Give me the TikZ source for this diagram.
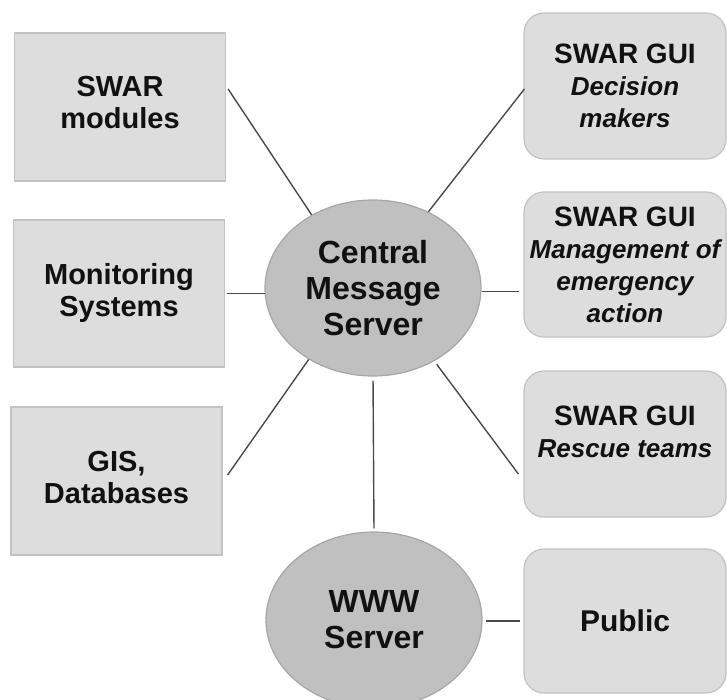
\documentclass[tikz,border=0pt]{standalone}
\usepackage{fontspec}
\setmainfont{Liberation Sans}
\usetikzlibrary{shapes.geometric,calc}

\definecolor{boxfill}{HTML}{DDDDDD}
\definecolor{boxline}{HTML}{C2C2C2}
\definecolor{ovalfill}{HTML}{C0C0C0}
\definecolor{ovalline}{HTML}{A6A6A6}
\definecolor{wire}{HTML}{4A4A4A}
\definecolor{ink}{HTML}{111111}

\tikzset{
  plainbox/.style={draw=boxline, fill=boxfill, line width=1.2pt, inner sep=0pt,
    minimum width=211pt, text=ink, align=center,
    font=\fontsize{29}{32}\selectfont\bfseries},
  guibox/.style={draw=boxline, fill=boxfill, line width=1.2pt, inner sep=0pt,
    rounded corners=20pt, minimum width=202pt, text=ink, align=center,
    font=\fontsize{28}{32}\selectfont\bfseries},
  server/.style={ellipse, draw=ovalline, fill=ovalfill, line width=1.2pt, inner sep=0pt,
    minimum width=216pt, minimum height=176pt, text=ink, align=center,
    font=\fontsize{32}{36}\selectfont\bfseries},
  labeltext/.style={text=ink, align=center, inner sep=0pt,
    font=\fontsize{28}{32}\selectfont\bfseries},
  wireline/.style={draw=wire, line width=1.4pt},
}
\newcommand{\role}[1]{{\fontsize{26}{32}\selectfont\itshape #1}}

\begin{document}
\begin{tikzpicture}[x=1pt, y=-1pt]
\useasboundingbox (0,0) rectangle (727,700);

% data sources on the left
\node[plainbox, minimum height=148pt] (mods) at (120,107) {};
\node[labeltext, font=\fontsize{29}{32}\selectfont\bfseries] (modstext) at (120,103) {SWAR\\modules};
\node[plainbox, minimum height=147pt] (mon) at (119,293.5) {Monitoring\\Systems};
\node[plainbox, minimum height=148pt] (gis) at (116.5,481) {};
\node[labeltext, font=\fontsize{29}{32}\selectfont\bfseries] (gistext) at (116.5,478) {GIS,\\Databases};

% user interfaces on the right
\node[guibox, minimum height=146pt] (dec) at (625,86) {SWAR GUI\\\role{Decision}\\\role{makers}};
\node[guibox, minimum height=145pt] (mgmt) at (625,264.5) {SWAR GUI\\\role{Management of}\\\role{emergency}\\\role{action}};
\node[guibox, minimum height=146pt] (resc) at (625,444) {};
\node[labeltext] (resctext) at (625,432) {SWAR GUI\\\role{Rescue teams}};
\node[guibox, minimum height=144pt, font=\fontsize{30}{34}\selectfont\bfseries] (pub) at (625,621) {Public};

% servers
\node[server] (cms) at (373,288) {Central\\Message\\Server};
\node[server] (www) at (374,620) {WWW\\Server};

% links to the central message server
\draw[wireline] ($(mods.east)+(2,-18)$) -- (cms.130);
\draw[wireline, shorten >=2pt] (cms.183) -- (cms.183 -| mon.east);
\draw[wireline] ($(gis.east)+(5,-6)$) -- (cms.228);
\draw[wireline] (cms.54) -- ($(dec.west)+(1,3)$);
\draw[wireline, shorten >=4pt] (cms.-2) -- (cms.-2 -| mgmt.west);
\draw[wireline, shorten <=4pt] (cms.-50) -- ($(resc.west)+(-5,30)$);
\draw[wireline, shorten <=4pt, shorten >=3pt] (cms.south) -- (www.north);

% public web access
\draw[wireline, shorten <=3pt, shorten >=3pt] (pub.west -| www.east) -- (pub.west);
\end{tikzpicture}
\end{document}
